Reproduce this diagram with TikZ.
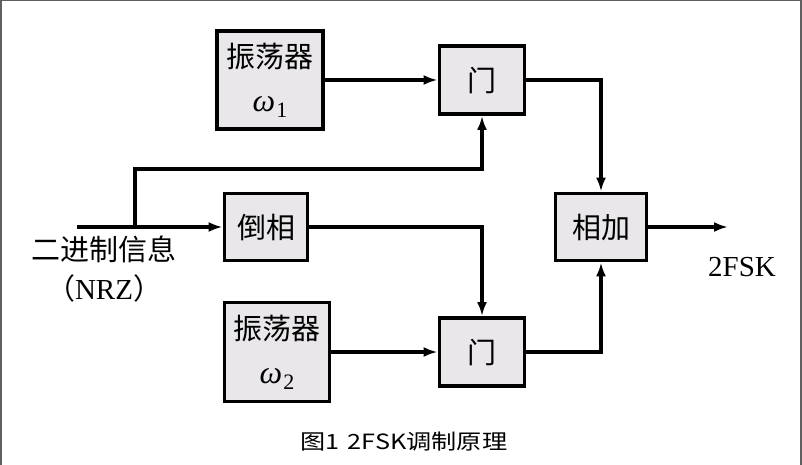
\documentclass[tikz,border=0pt]{standalone}
\usepackage{fontspec}
\setmainfont{Liberation Serif}
\newfontfamily\cjk{Noto Sans CJK SC}
\newfontfamily\capfont[FakeStretch=1.2]{Noto Sans CJK SC}
\usetikzlibrary{arrows.meta}
\definecolor{boxgray}{RGB}{233,231,234}
\definecolor{framegray}{RGB}{95,95,95}
\newcommand\omegasub[1]{{\rmfamily\itshape\fontsize{32}{44}\selectfont ω\kern1pt\raisebox{-6pt}{\upshape\fontsize{22}{22}\selectfont #1}}}

\begin{document}
\begin{tikzpicture}[x=1pt,y=-1pt]
\tikzset{
block/.style={draw,fill=boxgray,line width=3.8pt,align=center,inner sep=0pt,font={\cjk\fontsize{29}{44}\selectfont}},
edge/.style={line width=3.3pt,-{Latex[length=14pt,width=10pt]}},
font={\fontsize{29}{34}\selectfont}
}
\useasboundingbox (0,0) rectangle (802,465);
\draw[framegray,line width=1.5pt] (0.75,465) -- (0.75,0.75) -- (801,0.75) -- (801,465);

\node[block,minimum width=106pt,minimum height=98pt] (osc1) at (270,80) {振荡器\\\omegasub{1}};
\node[block,minimum width=85pt,minimum height=68pt] (gate1) at (482,80) {门};
\node[block,minimum width=83pt,minimum height=67pt] (invert) at (266,227) {倒相};
\node[block,minimum width=91pt,minimum height=67pt] (adder) at (601,227) {相加};
\node[block,minimum width=105pt,minimum height=99pt] (osc2) at (277,352) {振荡器\\\omegasub{2}};
\node[block,minimum width=85pt,minimum height=68pt] (gate2) at (482,352) {门};

\coordinate (in) at (77,227);
\coordinate (br) at (135,227);
\coordinate (turn) at (135,169);
\coordinate (out) at (728,227);

\node[font={\cjk\fontsize{29}{34}\selectfont}] (info) at (104,249) {二进制信息};
\node (nrz) at (104,288) {{\cjk （}NRZ{\cjk ）}};
\node (fsk) at (742,267) {2FSK};
\node[font={\capfont\fontsize{21}{24}\selectfont}] (caption) at (404,442) {图1\hspace{8pt}2FSK调制原理};

\draw[edge] (osc1) -- (gate1);
\draw[edge] (osc2) -- (gate2);
\draw[edge] (in) -- (invert);
\draw[edge] (br) -- (turn) -| (gate1);
\draw[edge] (invert) -| (gate2);
\draw[edge] (gate1) -| (adder);
\draw[edge] (gate2) -| (adder);
\draw[edge] (adder) -- (out);
\end{tikzpicture}
\end{document}
